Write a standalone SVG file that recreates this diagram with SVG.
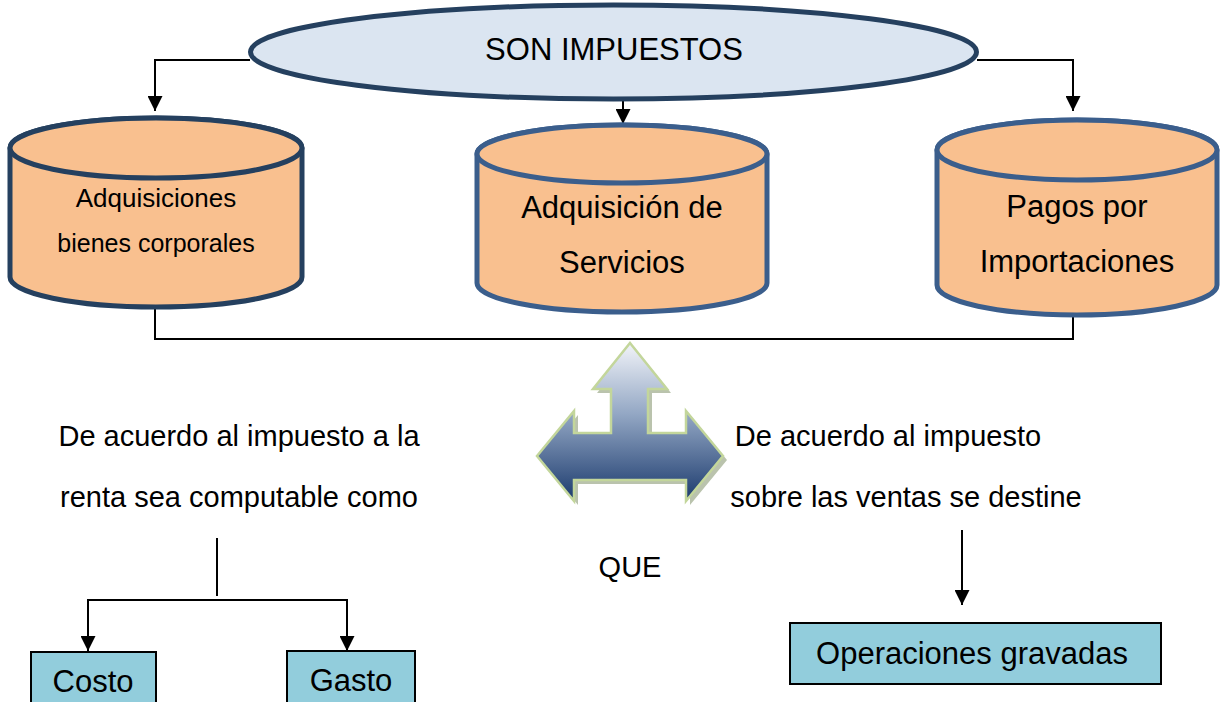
<svg xmlns="http://www.w3.org/2000/svg" width="1224" height="702" viewBox="0 0 1224 702">
<style>
text{font-family:"Liberation Sans",Arial,sans-serif;fill:#000;text-anchor:middle}
.cyl{fill:#F9C08F;stroke-width:5}
.cylA{stroke:#25405F}
.cylB{stroke:#3B5E8C}
.box{fill:#92CDDC;stroke:#000;stroke-width:2}
.ln{fill:none;stroke:#000;stroke-width:2}
</style>
<defs>
<marker id="ah" viewBox="0 0 10 10" refX="10" refY="5" markerWidth="7.5" markerHeight="7.5" orient="auto" markerUnits="strokeWidth">
<path d="M0,0 L10,5 L0,10 Z" fill="#000"/>
</marker>
<linearGradient id="ag" x1="0" y1="0" x2="0" y2="1">
<stop offset="0" stop-color="#F2F4F9"/>
<stop offset="0.45" stop-color="#93A7C4"/>
<stop offset="1" stop-color="#1B3A6D"/>
</linearGradient>
</defs>
<rect width="1224" height="702" fill="#fff"/>
<g id="connectors">
<path class="ln" d="M250,60 H155 V111" marker-end="url(#ah)"/>
<path class="ln" d="M977,60 H1073 V111" marker-end="url(#ah)"/>
<path class="ln" d="M623,100 V124" marker-end="url(#ah)"/>
<path class="ln" d="M155,307 V339 H1073 V315"/>
<path class="ln" d="M217,538 V596"/>
<path class="ln" d="M217,600 H88 V651" marker-end="url(#ah)"/>
<path class="ln" d="M217,600 H347 V651" marker-end="url(#ah)"/>
<path class="ln" d="M962,530 V605" marker-end="url(#ah)"/>
</g>
<g id="son-impuestos">
<ellipse cx="613.5" cy="52" rx="363" ry="47" fill="#DBE5F1" stroke="#25405F" stroke-width="5"/>
<text x="614" y="60" font-size="31">SON IMPUESTOS</text>
</g>
<g id="adquisiciones-bienes">
<path class="cyl cylA" d="M10,148 A146,30 0 0 1 302,148 V277 A146,30 0 0 1 10,277 Z"/>
<ellipse class="cyl cylA" cx="156" cy="148" rx="146" ry="30"/>
<text x="156" y="207" font-size="26">Adquisiciones</text>
<text x="156" y="252" font-size="25">bienes corporales</text>
</g>
<g id="adquisicion-servicios">
<path class="cyl cylB" d="M477,154 A145,29 0 0 1 767,154 V283 A145,29 0 0 1 477,283 Z"/>
<ellipse class="cyl cylB" cx="622" cy="154" rx="145" ry="29"/>
<text x="622" y="218" font-size="31">Adquisición de</text>
<text x="622" y="273" font-size="31">Servicios</text>
</g>
<g id="pagos-importaciones">
<path class="cyl cylB" d="M937,150 A140,30 0 0 1 1217,150 V285 A140,30 0 0 1 937,285 Z"/>
<ellipse class="cyl cylB" cx="1077" cy="150" rx="140" ry="30"/>
<text x="1077" y="217" font-size="31">Pagos por</text>
<text x="1077" y="272" font-size="31">Importaciones</text>
</g>
<g id="tri-arrow">
<polygon points="630,343 667,389 648,389 648,433 686,433 686,411 723,456 686,501 686,480 574,480 574,501 537,456 574,411 574,433 611,433 611,389 593,389" transform="translate(4,4)" fill="#9DA98A" opacity="0.7"/>
<polygon points="630,343 667,389 648,389 648,433 686,433 686,411 723,456 686,501 686,480 574,480 574,501 537,456 574,411 574,433 611,433 611,389 593,389" fill="url(#ag)" stroke="#C3D69B" stroke-width="2.5" stroke-linejoin="miter"/>
</g>
<g id="texto-renta">
<text x="239" y="446" font-size="29">De acuerdo al impuesto a la</text>
<text x="239" y="507" font-size="29">renta sea computable como</text>
</g>
<g id="texto-ventas">
<text x="888" y="446" font-size="29">De acuerdo al impuesto</text>
<text x="906" y="507" font-size="29">sobre las ventas se destine</text>
</g>
<g id="que">
<text x="630" y="577" font-size="29">QUE</text>
</g>
<g id="costo">
<rect class="box" x="31" y="652" width="125" height="60"/>
<text x="93" y="692" font-size="31">Costo</text>
</g>
<g id="gasto">
<rect class="box" x="287" y="651" width="128" height="60"/>
<text x="351" y="691" font-size="31">Gasto</text>
</g>
<g id="operaciones-gravadas">
<rect class="box" x="790" y="623" width="371" height="61"/>
<text x="972" y="664" font-size="31">Operaciones gravadas</text>
</g>
</svg>
